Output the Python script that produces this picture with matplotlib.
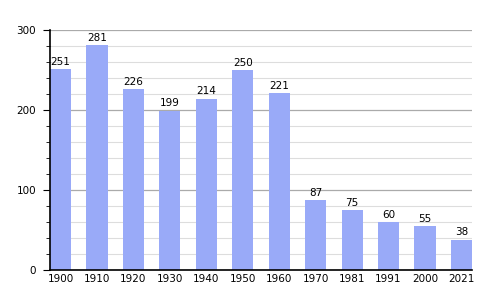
import numpy as np
import matplotlib.pyplot as plt
from matplotlib.ticker import MultipleLocator

years = ['1900', '1910', '1920', '1930', '1940', '1950', '1960',
         '1970', '1981', '1991', '2000', '2021']
population = [251, 281, 226, 199, 214, 250, 221, 87, 75, 60, 55, 38]

fig = plt.figure(figsize=(5, 3), dpi=100)
ax = fig.add_axes([0.1, 0.1, 0.844, 0.8])

x = np.arange(len(years))
bars = ax.bar(x, population, width=0.58, color='#99aaf8', zorder=3)
for xi, v in zip(x, population):
    ax.text(xi, v + 3, str(v), ha='center', va='bottom', fontsize=7.5, zorder=4)

ax.set_xlim(-0.29, len(years) - 0.71)
ax.set_ylim(0, 300)
ax.set_xticks(x)
ax.set_xticklabels(years, fontsize=7.5)
ax.tick_params(axis='x', length=0, pad=3)
ax.yaxis.set_major_locator(MultipleLocator(100))
ax.yaxis.set_minor_locator(MultipleLocator(20))
ax.tick_params(axis='y', which='major', length=5, labelsize=7.5, pad=5)
ax.tick_params(axis='y', which='minor', length=3)

ax.grid(axis='y', which='major', color='#aaaaaa', linewidth=0.9, zorder=0)
ax.grid(axis='y', which='minor', color='#dddddd', linewidth=0.8, zorder=0)

for s in ['top', 'right']:
    ax.spines[s].set_visible(False)
for s in ['left', 'bottom']:
    ax.spines[s].set_linewidth(1.2)
    ax.spines[s].set_zorder(5)

fig.savefig('out.png', dpi=100)
